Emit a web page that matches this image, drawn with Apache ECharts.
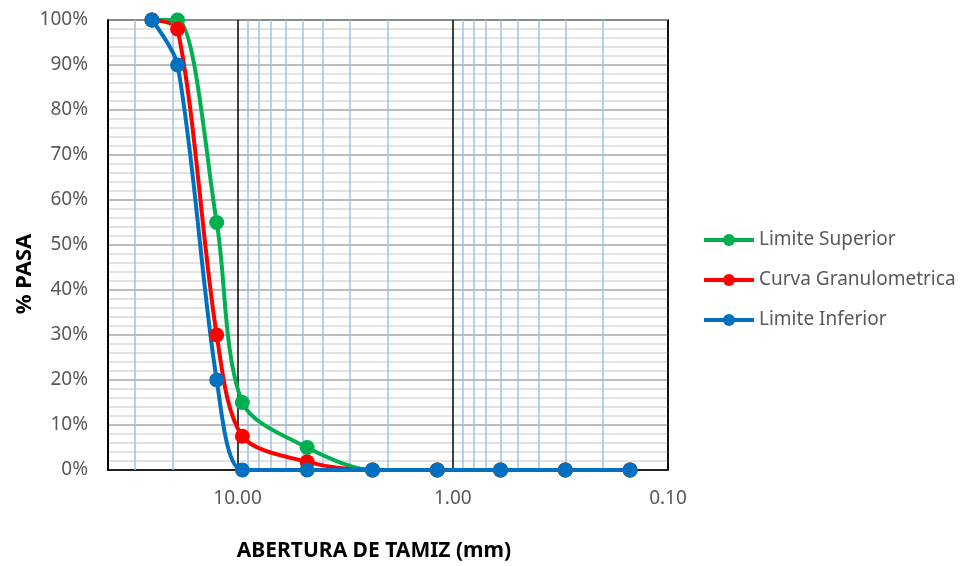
<!DOCTYPE html>
<html>
<head>
<meta charset="utf-8">
<title>Curva Granulometrica</title>
<script src="https://cdn.jsdelivr.net/npm/echarts@6/dist/echarts.min.js"></script>
<style>
  html, body { margin: 0; padding: 0; background: #fff; }
  #chart { width: 961px; height: 566px; }
</style>
</head>
<body>
<div id="chart"></div>
<script>
// Sieve openings (mm) and percent passing for each curve
const aberturas = [25, 19, 12.5, 9.5, 4.75, 2.36, 1.18, 0.6, 0.3, 0.15];
const limiteSuperior = [100, 100, 55, 15, 5, 0, 0, 0, 0, 0];
const curvaGranulometrica = [100, 98, 30, 7.5, 1.8, 0, 0, 0, 0, 0];
const limiteInferior = [100, 90, 20, 0, 0, 0, 0, 0, 0, 0];

// Minor log gridlines inside each decade
const minorGrid = [20, 30, 2, 3, 4, 5, 6, 7, 8, 9, 0.2, 0.3, 0.4, 0.5, 0.6, 0.7, 0.8, 0.9];

const FONT = 'Noto Sans';

function pairs(values) {
  return aberturas.map((a, i) => [a, values[i]]);
}

function curve(name, color, values) {
  return {
    name: name,
    type: 'line',
    data: pairs(values),
    smooth: 0.3,
    symbol: 'circle',
    symbolSize: 15,
    lineStyle: { color: color, width: 4 },
    itemStyle: { color: color },
    z: 3
  };
}

const chart = echarts.init(document.getElementById('chart'));
chart.setOption({
  animation: false,
  backgroundColor: '#fff',
  grid: {
    left: 108, top: 20, right: 293, bottom: 96,
    show: true, borderColor: '#000', borderWidth: 1.5,
    backgroundColor: 'transparent'
  },
  xAxis: {
    type: 'log',
    logBase: 10,
    min: 0.1,
    max: 40,
    inverse: true,
    axisLine: { show: true, lineStyle: { color: '#000', width: 1.5 } },
    axisTick: { show: false },
    axisLabel: {
      color: '#595959',
      fontFamily: FONT,
      fontSize: 19,
      margin: 19,
      formatter: function (v) {
        const l = Math.log10(v);
        return Math.abs(l - Math.round(l)) < 1e-6 && v <= 10 ? v.toFixed(2) : '';
      }
    },
    splitLine: { show: true, lineStyle: { color: '#000', width: 1.5 } }
  },
  yAxis: {
    type: 'value',
    min: 0,
    max: 100,
    interval: 10,
    axisLine: { show: true, lineStyle: { color: '#000', width: 1.5 } },
    axisTick: { show: false },
    axisLabel: {
      color: '#595959',
      fontFamily: FONT,
      fontSize: 19,
      margin: 20,
      formatter: '{value}%'
    },
    splitLine: { show: true, lineStyle: { color: '#A6A6A6', width: 1.5 } },
    minorTick: { show: false, splitNumber: 5 },
    minorSplitLine: { show: true, lineStyle: { color: '#D9D9D9', width: 1.5 } }
  },
  legend: {
    orient: 'vertical',
    left: 697,
    top: 225,
    itemWidth: 50,
    itemHeight: 15,
    itemGap: 20,
    lineStyle: { width: 4 },
    data: ['Limite Superior', 'Curva Granulometrica', 'Limite Inferior'],
    textStyle: {
      color: '#595959', fontFamily: FONT, fontSize: 19, lineHeight: 20,
      padding: [0, 0, 0, 0]
    }
  },
  graphic: [
    {
      type: 'text',
      x: 25, y: 274,
      rotation: Math.PI / 2,
      style: {
        text: '% PASA',
        font: 'bold 22px "Noto Sans"',
        fill: '#000',
        align: 'center',
        verticalAlign: 'middle'
      }
    },
    {
      type: 'text',
      x: 374, y: 551,
      style: {
        text: 'ABERTURA DE TAMIZ (mm)',
        font: 'bold 21px "Noto Sans"',
        fill: '#000',
        align: 'center',
        verticalAlign: 'middle'
      }
    }
  ],
  series: [
    {
      name: 'grid-minor',
      type: 'line',
      data: [],
      z: 1,
      silent: true,
      markLine: {
        silent: true,
        z: 1,
        symbol: ['none', 'none'],
        label: { show: false },
        lineStyle: { color: '#9DC3E6', width: 1.5, type: 'solid' },
        data: minorGrid.map(v => ({ xAxis: v }))
      }
    },
    curve('Limite Superior', '#00B050', limiteSuperior),
    curve('Curva Granulometrica', '#FF0000', curvaGranulometrica),
    curve('Limite Inferior', '#0070C0', limiteInferior)
  ]
});
</script>
</body>
</html>
